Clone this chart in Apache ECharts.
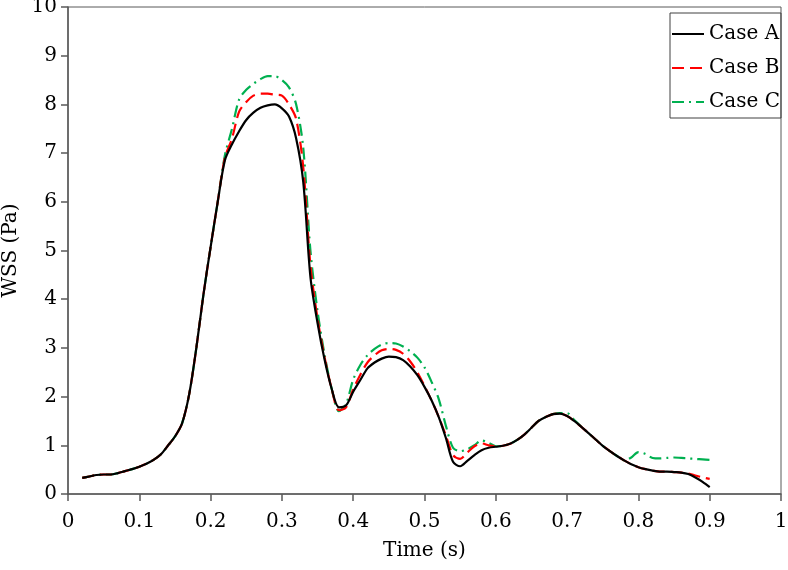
<!DOCTYPE html>
<html>
<head>
<meta charset="utf-8">
<script src="https://cdn.jsdelivr.net/npm/echarts@6/dist/echarts.min.js"></script>
<style>html,body{margin:0;padding:0;background:#fff}#c{width:788px;height:570px}</style>
</head>
<body>
<div id="c"></div>
<script>
// Time (s)
const time = [0.02,0.03,0.04,0.05,0.06,0.07,0.08,0.09,0.10,0.11,0.12,0.13,0.14,0.15,0.16,0.17,0.18,0.19,0.20,0.21,0.22,0.23,0.24,0.25,0.26,0.27,0.28,0.29,0.30,0.31,0.32,0.33,0.34,0.35,0.36,0.37,0.38,0.39,0.40,0.41,0.42,0.43,0.44,0.45,0.46,0.47,0.48,0.49,0.50,0.51,0.52,0.53,0.54,0.55,0.56,0.57,0.58,0.59,0.60,0.61,0.62,0.63,0.64,0.65,0.66,0.67,0.68,0.69,0.70,0.71,0.72,0.73,0.74,0.75,0.76,0.77,0.78,0.79,0.80,0.81,0.82,0.83,0.84,0.85,0.86,0.87,0.88,0.89,0.90];
// WSS (Pa)
const caseA = [0.33,0.36,0.39,0.40,0.40,0.43,0.47,0.51,0.56,0.62,0.70,0.81,0.99,1.18,1.45,2.05,3.0,4.1,5.07,6.0,6.85,7.18,7.45,7.68,7.83,7.93,7.98,8.0,7.92,7.75,7.3,6.4,4.46,3.51,2.75,2.15,1.78,1.82,2.1,2.34,2.58,2.7,2.78,2.82,2.81,2.75,2.62,2.44,2.2,1.92,1.58,1.15,0.66,0.57,0.68,0.8,0.9,0.95,0.97,0.99,1.03,1.11,1.22,1.36,1.5,1.58,1.64,1.65,1.6,1.5,1.38,1.25,1.12,0.99,0.88,0.78,0.69,0.61,0.55,0.51,0.48,0.46,0.46,0.45,0.44,0.41,0.34,0.25,0.14];
const caseB = [0.33,0.36,0.39,0.40,0.40,0.43,0.47,0.51,0.56,0.62,0.70,0.81,0.99,1.18,1.45,2.05,3.0,4.1,5.07,6.0,6.9,7.3,7.85,8.05,8.18,8.22,8.22,8.2,8.18,8.0,7.7,6.7,4.7,3.6,2.8,2.15,1.72,1.78,2.15,2.45,2.7,2.85,2.95,2.98,2.96,2.88,2.72,2.5,2.22,1.92,1.58,1.2,0.8,0.72,0.85,0.98,1.04,1.0,0.98,0.99,1.03,1.11,1.22,1.36,1.5,1.58,1.64,1.65,1.6,1.5,1.38,1.25,1.12,0.99,0.88,0.78,0.69,0.61,0.55,0.51,0.48,0.46,0.46,0.45,0.44,0.42,0.38,0.34,0.31];
const caseC = [0.33,0.36,0.39,0.40,0.40,0.43,0.47,0.51,0.56,0.62,0.70,0.81,0.99,1.18,1.45,2.05,3.0,4.1,5.07,6.0,6.95,7.5,8.1,8.3,8.42,8.52,8.58,8.58,8.5,8.35,8.0,7.1,5.0,3.75,2.85,2.15,1.7,1.85,2.35,2.65,2.85,2.98,3.07,3.1,3.09,3.03,2.93,2.8,2.6,2.3,1.95,1.4,0.95,0.88,0.92,1.0,1.1,1.05,0.98,0.99,1.03,1.11,1.22,1.36,1.5,1.58,1.64,1.66,1.66,1.52,1.38,1.25,1.12,0.99,0.88,0.78,0.69,0.75,0.86,0.82,0.74,0.73,0.74,0.75,0.74,0.73,0.72,0.71,0.70];
const seriesNames = ['Case A','Case B','Case C'];

const pairs = v => time.map((t,i)=>[t,v[i]]);
const FONT = 'DejaVu Serif';
const axisCol = '#595959';

const chart = echarts.init(document.getElementById('c'), null, {renderer:'canvas'});
chart.setOption({
  animation:false,
  backgroundColor:'#fff',
  grid:{left:68,right:7,top:7,bottom:76,containLabel:false,outerBoundsMode:'none',
        show:true,borderColor:axisCol,borderWidth:1,backgroundColor:'transparent'},
  legend:{
    orient:'vertical', left:670, top:13,
    data:seriesNames,
    itemWidth:32, itemHeight:14, itemGap:14,
    padding:[11,1,6,1],
    borderColor:'#404040', borderWidth:1,
    itemStyle:{color:'transparent',borderWidth:0,opacity:0},
    textStyle:{fontFamily:FONT,fontSize:20,lineHeight:20,color:'#000'}
  },
  xAxis:{
    type:'value', min:0, max:1, interval:0.1,
    name:'Time (s)', nameLocation:'middle', nameGap:47,
    nameTextStyle:{fontFamily:FONT,fontSize:20,color:'#000'},
    axisLine:{lineStyle:{color:axisCol,width:1.5}},
    axisTick:{length:7,lineStyle:{color:axisCol,width:1.5}},
    axisLabel:{fontFamily:FONT,fontSize:20,color:'#000',margin:18},
    splitLine:{show:false}
  },
  yAxis:{
    type:'value', min:0, max:10, interval:1,
    name:'WSS (Pa)', nameLocation:'middle', nameGap:44,
    nameTextStyle:{fontFamily:FONT,fontSize:20,color:'#000'},
    axisLine:{show:true,lineStyle:{color:axisCol,width:1.5}},
    axisTick:{show:true,length:7,lineStyle:{color:axisCol,width:1.5}},
    axisLabel:{fontFamily:FONT,fontSize:20,color:'#000',margin:11},
    splitLine:{show:false}
  },
  series:[
    {name:seriesNames[0],type:'line',data:pairs(caseA),symbol:'none',smooth:0.3,
     lineStyle:{color:'#000',width:2.2,type:'solid'},itemStyle:{color:'#000'},z:3},
    {name:seriesNames[1],type:'line',data:pairs(caseB),symbol:'none',smooth:0.3,
     lineStyle:{color:'#ff0000',width:2.2,type:[12,6]},itemStyle:{color:'#ff0000'},z:2},
    {name:seriesNames[2],type:'line',data:pairs(caseC),symbol:'none',smooth:0.3,
     lineStyle:{color:'#00b050',width:2.2,type:[12,5,2,5]},itemStyle:{color:'#00b050'},z:1}
  ]
});
</script>
</body>
</html>
